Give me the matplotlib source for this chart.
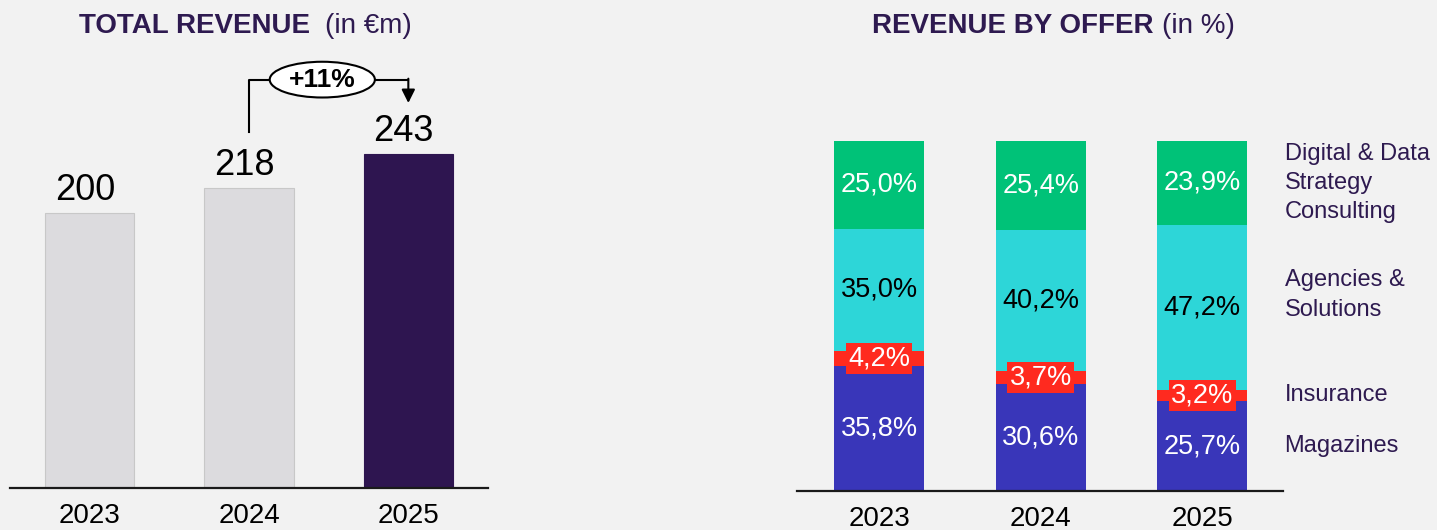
import numpy as np
import matplotlib
matplotlib.use("Agg")
import matplotlib.pyplot as plt
from matplotlib.patches import Ellipse

plt.rcParams["font.family"] = ["Liberation Sans", "DejaVu Sans"]

# ---- data ---------------------------------------------------------------
years = ["2023", "2024", "2025"]
revenue = [200, 218, 243]
growth_label = "+11%"

offers = ["Magazines", "Insurance", "Agencies &\nSolutions",
          "Digital & Data\nStrategy\nConsulting"]
share = {  # bottom -> top
    "Magazines": [35.8, 30.6, 25.7],
    "Insurance": [4.2, 3.7, 3.2],
    "Agencies &\nSolutions": [35.0, 40.2, 47.2],
    "Digital & Data\nStrategy\nConsulting": [25.0, 25.4, 23.9],
}

# ---- palette ------------------------------------------------------------
BG = "#F2F2F2"
PURPLE = "#2E1550"
TITLE = "#2E1A50"
GREY = "#DCDBDE"
SEG_COL = ["#3936B9", "#FF2A1F", "#2DD6D8", "#00C278"]
SEG_TXT = ["white", "white", "black", "white"]

W, H = 1437, 530
fig = plt.figure(figsize=(W / 100, H / 100), dpi=100, facecolor=BG)

def px_axes(x0, x1, ybase, height):
    return fig.add_axes([x0 / W, (H - ybase) / H, (x1 - x0) / W, height / H])

# ---- left: total revenue -------------------------------------------------
axL = px_axes(10, 488, 488, 467.5)
axL.set_facecolor("none")
x = np.arange(len(years))
cols = [GREY, GREY, PURPLE]
edges = ["#C8C8C8", "#C8C8C8", PURPLE]
axL.bar(x, revenue, width=0.56, color=cols, edgecolor=edges, lw=0.8, zorder=2)
for xi, v in zip(x, revenue):
    axL.text(xi - 0.03, v + 9.5, f"{v}", ha="center", va="baseline", fontsize=26, color="black")
axL.set_xlim(-0.5, 2.5)
axL.set_ylim(0, 340)
axL.set_xticks(x)
axL.set_xticklabels(years, fontsize=20)
axL.tick_params(axis="x", length=0, pad=11)
axL.set_yticks([])
for s in ["top", "right", "left"]:
    axL.spines[s].set_visible(False)
axL.spines["bottom"].set_linewidth(1.6)
axL.spines["bottom"].set_color("#1A1A1A")

# growth annotation
y_top = revenue[2] + 54
y_start = revenue[1] + 41
axL.plot([1, 1, 2], [y_start, y_top, y_top], color="black", lw=1.5, zorder=3, clip_on=False)
axL.annotate("", xy=(2, revenue[2] + 37), xytext=(2, y_top + 0.7),
             arrowprops=dict(arrowstyle="-|>", color="black", lw=1.5, mutation_scale=20,
                             shrinkA=0, shrinkB=0), zorder=3, annotation_clip=False)
axL.add_patch(Ellipse((1.46, y_top), 0.66, 26, facecolor="white", edgecolor="black",
                      lw=1.5, zorder=4, clip_on=False))
axL.text(1.46, y_top, growth_label, ha="center", va="center", fontsize=19,
         fontweight="bold", color="black", zorder=5)

fig.text(310 / W, 1 - 33 / H, "TOTAL REVENUE", ha="right", va="baseline",
         fontsize=20, fontweight="bold", color=TITLE)
fig.text(325 / W, 1 - 33 / H, "(in €m)", ha="left", va="baseline",
         fontsize=20, color=TITLE)

# ---- right: revenue by offer ---------------------------------------------
axR = px_axes(797, 1283, 491, 385)
axR.set_facecolor("none")
bottom = np.zeros(len(years))
for i, name in enumerate(offers):
    vals = np.array(share[name])
    axR.bar(x, vals, bottom=bottom, width=0.557, color=SEG_COL[i], lw=0, zorder=2)
    for xi, b, v in zip(x, bottom, vals):
        lab = f"{v:.1f}%".replace(".", ",")
        kw = {}
        if name == "Insurance":
            kw["bbox"] = dict(boxstyle="square,pad=0.08", fc=SEG_COL[i], ec="none")
        axR.text(xi, b + v / 2, lab, ha="center", va="center", fontsize=19.5,
                 color=SEG_TXT[i], zorder=4, **kw)
    # legend label beside the last bar
    ly = bottom[-1] + vals[-1] / 2
    if name.startswith("Agencies"):
        ly += 3.5
    axR.text(2.51, ly, name, ha="left", va="center", fontsize=17, color=TITLE,
             linespacing=1.42, clip_on=False)
    bottom = bottom + vals

axR.set_xlim(-0.508, 2.5)
axR.set_ylim(0, 110)
axR.set_xticks(x)
axR.set_xticklabels(years, fontsize=20)
axR.tick_params(axis="x", length=0, pad=11)
axR.set_yticks([])
for s in ["top", "right", "left"]:
    axR.spines[s].set_visible(False)
axR.spines["bottom"].set_linewidth(1.6)
axR.spines["bottom"].set_color("#1A1A1A")

fig.text(1153 / W, 1 - 33 / H, "REVENUE BY OFFER", ha="right", va="baseline",
         fontsize=20, fontweight="bold", color=TITLE)
fig.text(1162 / W, 1 - 33 / H, "(in %)", ha="left", va="baseline",
         fontsize=20, color=TITLE)

fig.savefig("out.png", dpi=100, facecolor=BG)
